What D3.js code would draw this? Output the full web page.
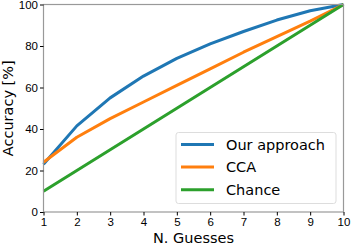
<!DOCTYPE html>
<html lang="en">
<head>
<meta charset="UTF-8">
<title>Accuracy vs guesses</title>
<style>
body { margin: 0; background: #fff; }
svg { display: block; font-family: 'DejaVu Sans', sans-serif; }
.axis text { font-size: 11.5px; fill: #000; }
.axis path, .axis line { stroke: #000; }
</style>
</head>
<body>
<svg id="chart" width="351" height="246"></svg>
<script src="https://cdn.jsdelivr.net/npm/d3@7"></script>
<script>
// values
var guesses = [1, 2, 3, 4, 5, 6, 7, 8, 9, 10];
var ourApproach = [23, 41.5, 55, 65.5, 74, 81, 87, 92.5, 97, 100];
var cca = [24, 36, 45, 53, 61, 69, 77, 84.5, 92, 100];
var chance = [10, 20, 30, 40, 50, 60, 70, 80, 90, 100];
var seriesNames = ["Our approach", "CCA", "Chance"];
var seriesColors = ["#1f77b4", "#ff7f0e", "#2ca02c"];
var yTicks = [0, 20, 40, 60, 80, 100];

var svg = d3.select("#chart");
var margin = {left: 43.5, right: 7.5, top: 4.5, bottom: 34};
var width = 351 - margin.left - margin.right,
    height = 246 - margin.top - margin.bottom;

var x = d3.scaleLinear().domain([1, 10]).range([0, width]);
var y = d3.scaleLinear().domain([0, 100]).range([height, 0]);

var g = svg.append("g").attr("transform", "translate(" + margin.left + "," + margin.top + ")");

var series = [ourApproach, cca, chance];
var line = d3.line()
  .x(function (d, i) { return x(guesses[i]); })
  .y(function (d) { return y(d); });

g.selectAll(".series")
  .data(series)
  .enter().append("path")
    .attr("class", "series")
    .attr("fill", "none")
    .attr("stroke", function (d, i) { return seriesColors[i]; })
    .attr("stroke-width", 3)
    .attr("stroke-linejoin", "round")
    .attr("d", line);

// frame
g.append("rect")
  .attr("width", width).attr("height", height)
  .attr("fill", "none").attr("stroke", "#999").attr("stroke-width", 1.2);

var xAxis = g.append("g").attr("class", "axis")
  .attr("transform", "translate(0," + height + ")")
  .call(d3.axisBottom(x).tickValues(guesses).tickSize(3.5).tickPadding(2));
var yAxis = g.append("g").attr("class", "axis")
  .call(d3.axisLeft(y).tickValues(yTicks).tickSize(3.5).tickPadding(2));
[xAxis, yAxis].forEach(function (a) {
  a.select(".domain").remove();
  a.selectAll("line").attr("stroke", "#999");
});

svg.append("text")
  .attr("x", margin.left + width / 2).attr("y", 243)
  .attr("text-anchor", "middle").attr("font-size", 14.5)
  .text("N. Guesses");
svg.append("text")
  .attr("transform", "translate(13," + (margin.top + height / 2) + ") rotate(-90)")
  .attr("text-anchor", "middle").attr("font-size", 14.5)
  .text("Accuracy [%]");

// legend
var legend = svg.append("g").attr("transform", "translate(176,132.5)");
legend.append("rect")
  .attr("width", 160).attr("height", 71).attr("rx", 2.5)
  .attr("fill", "#fff").attr("fill-opacity", 0.8)
  .attr("stroke", "#ddd");
var item = legend.selectAll(".item")
  .data(seriesNames)
  .enter().append("g")
    .attr("class", "item")
    .attr("transform", function (d, i) { return "translate(0," + (12 + i * 22.6) + ")"; });
item.append("line")
  .attr("x1", 5).attr("x2", 38)
  .attr("stroke", function (d, i) { return seriesColors[i]; })
  .attr("stroke-width", 3);
item.append("text")
  .attr("x", 50).attr("dy", "0.35em")
  .attr("font-size", 14.5)
  .text(function (d) { return d; });
</script>
</body>
</html>
